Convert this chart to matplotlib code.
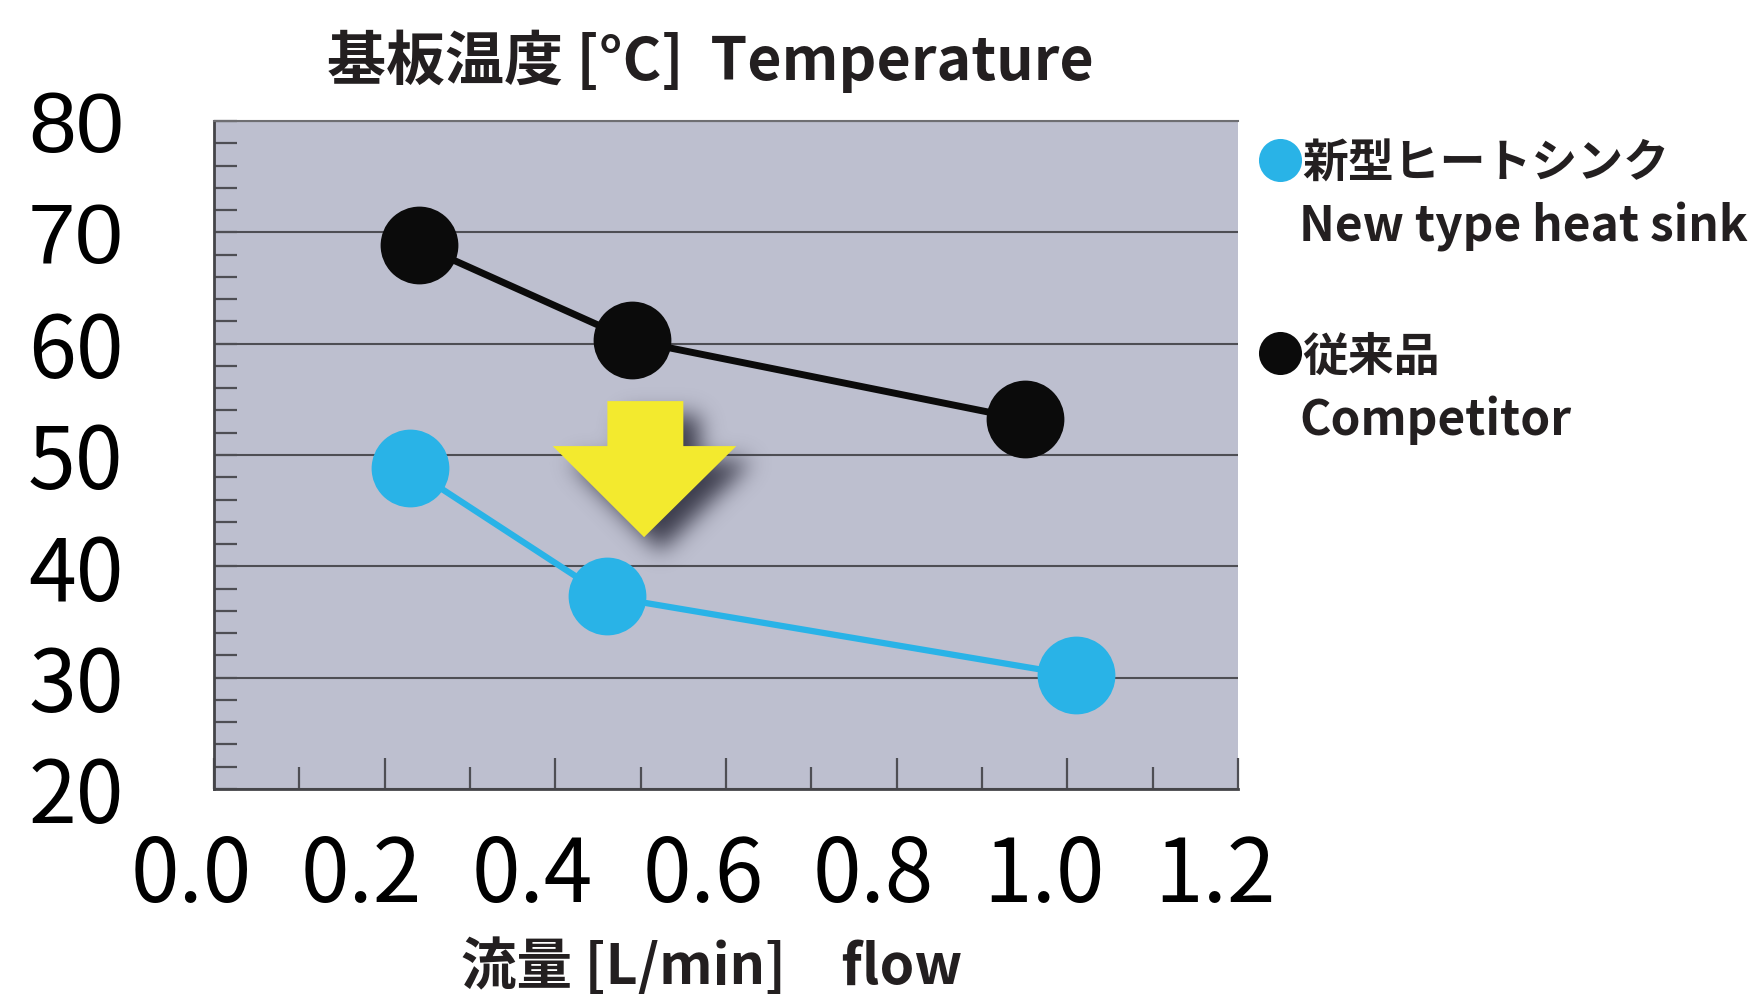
import numpy as np
import matplotlib
matplotlib.use('Agg')
import matplotlib.pyplot as plt
from matplotlib.path import Path
from matplotlib.patches import Polygon
from matplotlib.lines import Line2D
from matplotlib.ticker import FixedLocator, MultipleLocator
from matplotlib.transforms import ScaledTranslation

plt.rcParams['font.family'] = ['Noto Sans CJK JP', 'DejaVu Sans']

# data
flow_new = [0.23, 0.46, 1.01]
temp_new = [48.8, 37.3, 30.2]
flow_old = [0.24, 0.49, 0.95]
temp_old = [68.9, 60.3, 53.2]

x_ticks = [0.0, 0.2, 0.4, 0.6, 0.8, 1.0, 1.2]
x_tick_labels = ['0.0', '0.2', '0.4', '0.6', '0.8', '1.0', '1.2']
y_ticks = [20, 30, 40, 50, 60, 70, 80]
y_tick_labels = ['20', '30', '40', '50', '60', '70', '80']

legend_jp = ['新型ヒートシンク', '従来品']
legend_en = ['New type heat sink', 'Competitor']

title = '基板温度 [°C]  Temperature'
xlabel = '流量 [L/min]\u3000flow'

# styles
BLUE = '#29b3e7'
BLACK = '#0b0b0b'
YELLOW = '#f3ea2e'
BG = '#bdbfcf'
GRID = '#4e4e54'

W, H = 1757, 994
fig = plt.figure(figsize=(W / 100, H / 100), dpi=100)
ax = fig.add_axes([214 / W, 1 - 789 / H, 1024 / W, 668 / H])
ax.set_facecolor(BG)

ax.plot(flow_old, temp_old, color=BLACK, lw=5, marker='o', ms=56, mew=0, zorder=4)
ax.plot(flow_new, temp_new, color=BLUE, lw=4.5, marker='o', ms=56, mew=0, zorder=4)

# yellow arrow with a soft shadow
arrow = np.array([[0.461, 54.84], [0.550, 54.84], [0.550, 50.8], [0.612, 50.8],
                  [0.504, 42.62], [0.397, 50.8], [0.461, 50.8]])
ax.add_patch(Polygon(arrow, closed=True, fc=YELLOW, ec='none', zorder=3))

x0, x1, y0, y1 = 0.30, 0.80, 30, 62
nx = int((x1 - x0) * 853)
ny = int((y1 - y0) * 11.13)
XX, YY = np.meshgrid(np.linspace(x0, x1, nx), np.linspace(y0, y1, ny))
shadow = arrow + np.array([16 / 853, -14 / 11.13])
mask = Path(shadow).contains_points(np.c_[XX.ravel(), YY.ravel()]).reshape(ny, nx).astype(float)
sig = 11
k = np.exp(-0.5 * (np.arange(-3 * sig, 3 * sig + 1) / sig) ** 2)
k /= k.sum()
blur = np.apply_along_axis(lambda r: np.convolve(r, k, mode='same'), 1, mask)
blur = np.apply_along_axis(lambda c: np.convolve(c, k, mode='same'), 0, blur)
rgba = np.zeros((ny, nx, 4))
rgba[..., 0] = 0.18
rgba[..., 1] = 0.18
rgba[..., 2] = 0.24
rgba[..., 3] = blur * 0.9
ax.imshow(rgba, extent=(x0, x1, y0, y1), origin='lower', aspect='auto',
          interpolation='bilinear', zorder=2.8)

ax.set_xlim(0, 1.2)
ax.set_ylim(20, 80)
ax.xaxis.set_major_locator(FixedLocator(x_ticks))
ax.xaxis.set_minor_locator(MultipleLocator(0.1))
ax.yaxis.set_major_locator(FixedLocator(y_ticks))
ax.yaxis.set_minor_locator(MultipleLocator(2))
ax.set_xticklabels(x_tick_labels)
ax.set_yticklabels(y_tick_labels)

ax.tick_params(axis='x', which='major', direction='in', length=22, width=1.6,
               color=GRID, labelsize=63, pad=31)
ax.tick_params(axis='x', which='minor', direction='in', length=16, width=1.6, color=GRID)
ax.tick_params(axis='y', which='both', direction='in', length=16.5, width=1.6,
               color=GRID, labelsize=62, pad=65)
ax.grid(axis='y', which='major', color=GRID, lw=1.5)

for side in ['left', 'bottom']:
    ax.spines[side].set_color('#444448')
    ax.spines[side].set_linewidth(2)
ax.spines['top'].set_color('#6e6e72')
ax.spines['top'].set_linewidth(1.5)
ax.spines['right'].set_visible(False)

# the old graphic puts the x labels a bit left of the ticks
shift = ScaledTranslation(-0.23, 0, fig.dpi_scale_trans)
for lab in ax.get_xticklabels():
    lab.set_transform(lab.get_transform() + shift)
for lab in ax.get_yticklabels():
    if lab.get_text() in ('70', '80'):
        lab.set_fontfamily(['Liberation Sans', 'DejaVu Sans'])

fig.text(710 / W, 1 - 61 / H, title, ha='center', va='center', size=42.5, weight='bold',
         color='#231f20')
fig.text(712 / W, 1 - 984 / H, xlabel, ha='center', va='baseline', size=40, weight='bold',
         color='#231f20')

# legend on the right
for jp, en, col, yc in zip(legend_jp, legend_en, [BLUE, BLACK], [160, 353]):
    fig.add_artist(Line2D([1280 / W], [1 - yc / H], marker='o', ms=31, mew=0, color=col,
                          transform=fig.transFigure))
    fig.text(1302 / W, 1 - (yc + 5) / H, jp, ha='left', va='center', size=33, weight='bold',
             color='#231f20')
    fig.text(1299 / W, 1 - (yc + 67) / H, en, ha='left', va='center', size=34.5, weight='bold',
             color='#231f20')

fig.savefig('out.png', dpi=100)
